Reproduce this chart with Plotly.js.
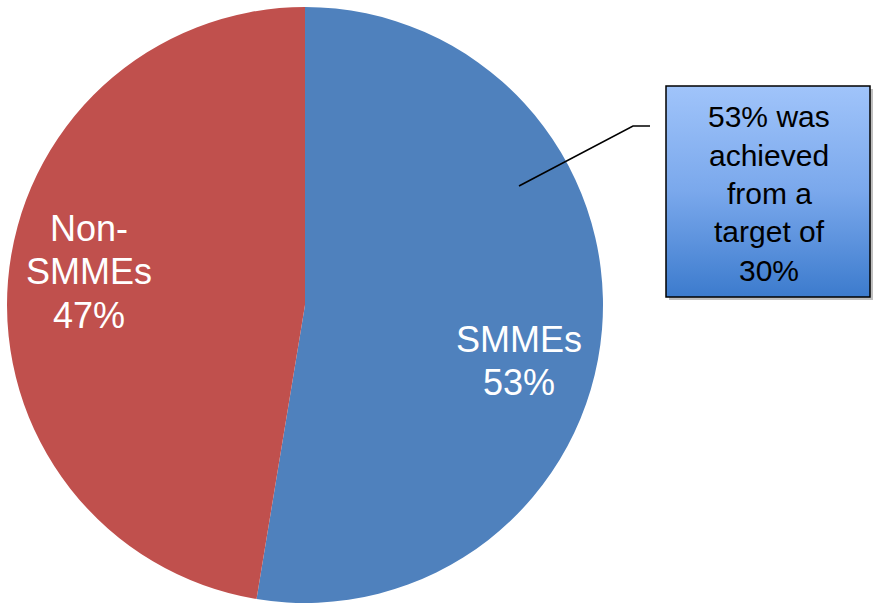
<!DOCTYPE html>
<html>
<head>
<meta charset="utf-8">
<script src="https://cdn.plot.ly/plotly-3.0.1.min.js"></script>
<style>html,body{margin:0;padding:0;background:#fff;}#chart{width:874px;height:605px;}</style>
</head>
<body>
<div id="chart"></div>
<script>
// Data
const categories = ['SMMEs', 'Non-SMMEs'];
const displayNames = ['SMMEs', 'Non-<br>SMMEs'];
const shares = [52.6, 47.4];
const sliceColors = ['#4F81BD', '#C0504D'];
const calloutText = '53% was<br>achieved<br>from a<br>target of<br>30%';

const W = 874, H = 605;
const px = x => x / W;
const py = y => 1 - y / H;

const gradSvg = '<svg xmlns="http://www.w3.org/2000/svg" width="204" height="211" preserveAspectRatio="none">' +
  '<defs><linearGradient id="g" x1="0" y1="0" x2="0" y2="1">' +
  '<stop offset="0" stop-color="#A0C4FA"/><stop offset="0.5" stop-color="#7AA8EC"/><stop offset="1" stop-color="#3C7BCD"/>' +
  '</linearGradient></defs><rect width="204" height="211" fill="url(#g)"/></svg>';
const gradSrc = 'data:image/svg+xml;charset=utf-8,' + encodeURIComponent(gradSvg);

const trace = {
  type: 'pie',
  labels: categories,
  values: shares,
  textinfo: 'none',
  marker: {colors: sliceColors, line: {width: 0}},
  sort: false,
  direction: 'clockwise',
  rotation: 0,
  hoverinfo: 'none',
  showlegend: false,
  domain: {x: [0, 610 / W], y: [2 / H, 598 / H]}
};

const total = shares.reduce((a, b) => a + b, 0);
const annotations = [];
// slice labels (one annotation per line so line spacing matches)
const labelAnchors = [{x: 519, firstBaseline: 352}, {x: 89, firstBaseline: 241}];
const labelSize = 36, labelGap = 43.5;
categories.forEach((c, i) => {
  const pct = Math.round(shares[i] / total * 100) + '%';
  const lines = displayNames[i].split('<br>').concat([pct]);
  lines.forEach((ln, k) => {
    annotations.push({
      xref: 'paper', yref: 'paper', x: px(labelAnchors[i].x),
      y: py(labelAnchors[i].firstBaseline + k * labelGap - 0.35 * labelSize),
      xanchor: 'center', yanchor: 'middle', showarrow: false, text: ln,
      font: {family: 'Liberation Sans, Arial, sans-serif', size: labelSize, color: '#ffffff'}
    });
  });
});
// callout lines
const calloutSize = 30, calloutGap = 38.5;
calloutText.split('<br>').forEach((ln, k) => {
  annotations.push({
    xref: 'paper', yref: 'paper', x: px(769),
    y: py(127 + k * calloutGap - 0.35 * calloutSize),
    xanchor: 'center', yanchor: 'middle', showarrow: false, text: ln,
    font: {family: 'Liberation Sans, Arial, sans-serif', size: calloutSize, color: '#000000'}
  });
});

const layout = {
  width: W, height: H,
  margin: {l: 0, r: 0, t: 0, b: 0},
  paper_bgcolor: '#ffffff',
  showlegend: false,
  images: [{
    source: gradSrc, xref: 'paper', yref: 'paper',
    x: px(666), y: py(86), sizex: 204 / W, sizey: 211 / H,
    xanchor: 'left', yanchor: 'top', sizing: 'stretch', layer: 'above'
  }],
  shapes: [
    {type: 'rect', xref: 'paper', yref: 'paper', x0: px(669), x1: px(873), y0: py(89), y1: py(300),
     fillcolor: 'rgba(0,0,0,0.25)', line: {width: 0}, layer: 'below'},
    {type: 'rect', xref: 'paper', yref: 'paper', x0: px(666), x1: px(870), y0: py(86), y1: py(297),
     fillcolor: 'rgba(0,0,0,0)', line: {color: '#000000', width: 1.5}, layer: 'above'},
    {type: 'path', xref: 'paper', yref: 'paper',
     path: 'M ' + px(519) + ' ' + py(186) + ' L ' + px(633) + ' ' + py(126) + ' L ' + px(650) + ' ' + py(126),
     line: {color: '#000000', width: 1.6}, layer: 'above'}
  ],
  annotations: annotations
};

Plotly.newPlot('chart', [trace], layout, {displayModeBar: false, staticPlot: true});
</script>
</body>
</html>
